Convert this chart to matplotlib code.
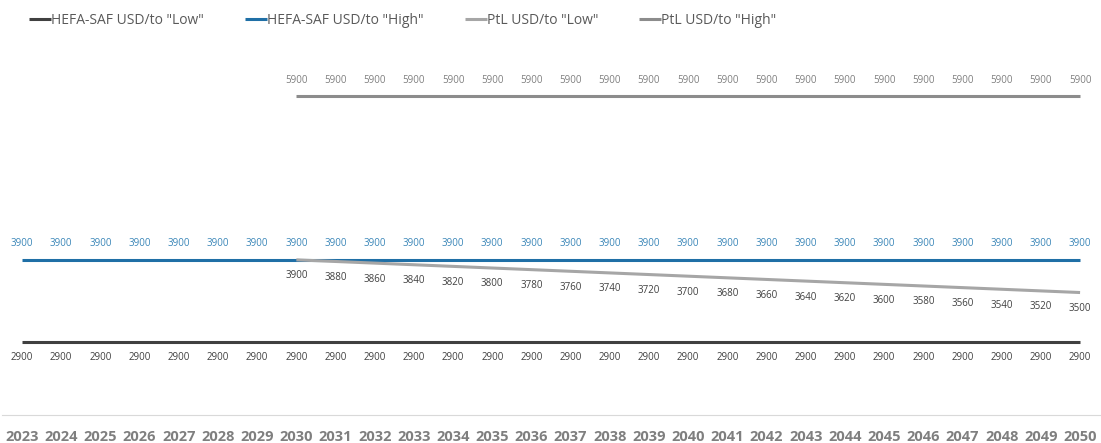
import matplotlib.pyplot as plt
import numpy as np

plt.rcParams['font.family'] = ['Open Sans', 'DejaVu Sans']

# Jahre und Preisszenarien (USD/t)
years = list(range(2023, 2051))
hefa_low = [2900] * 28
hefa_high = [3900] * 28
ptl_years = list(range(2030, 2051))
ptl_low = [3900, 3880, 3860, 3840, 3820, 3800, 3780, 3760, 3740, 3720, 3700,
           3680, 3660, 3640, 3620, 3600, 3580, 3560, 3540, 3520, 3500]
ptl_high = [5900] * 21

fig = plt.figure(figsize=(11.01, 4.43), dpi=100)
ax = fig.add_axes([0.0022, 0.063, 0.9966, 0.83])

series = [
    (years, hefa_low, 'HEFA-SAF USD/to "Low"', '#404040', '#404040', -1),
    (years, hefa_high, 'HEFA-SAF USD/to "High"', '#1f6fa6', '#3a86b8', 1),
    (ptl_years, ptl_low, 'PtL USD/to "Low"', '#a6a6a6', '#404040', -1),
    (ptl_years, ptl_high, 'PtL USD/to "High"', '#8c8c8c', '#7f7f7f', 1),
]

for x, y, label, color, tcolor, side in series:
    ax.plot(x, y, color=color, lw=2.2, label=label, solid_capstyle='butt')
    for xi, yi in zip(x, y):
        ax.annotate(f'{yi}', (xi, yi), xytext=(0, 11.5 * side), textcoords='offset points',
                    ha='center', va='center', fontsize=7, color=tcolor)

ax.set_xlim(2022.5, 2050.5)
ax.set_ylim(2000, 6500)
ax.set_xticks(years)
ax.set_xticklabels([str(y) for y in years], fontweight='bold', fontsize=10.5, color='#7f7f7f')
ax.tick_params(axis='x', length=0, pad=11)
ax.set_yticks([])
for s in ['top', 'right', 'left']:
    ax.spines[s].set_visible(False)
ax.spines['bottom'].set_color('#d9d9d9')

fig.legend(loc='upper left', bbox_to_anchor=(0.015, 1.0), ncol=4, frameon=False,
           fontsize=10, labelcolor='#595959', handlelength=1.6, handletextpad=0.0,
           columnspacing=2.95)

plt.savefig('out.png', dpi=100)
